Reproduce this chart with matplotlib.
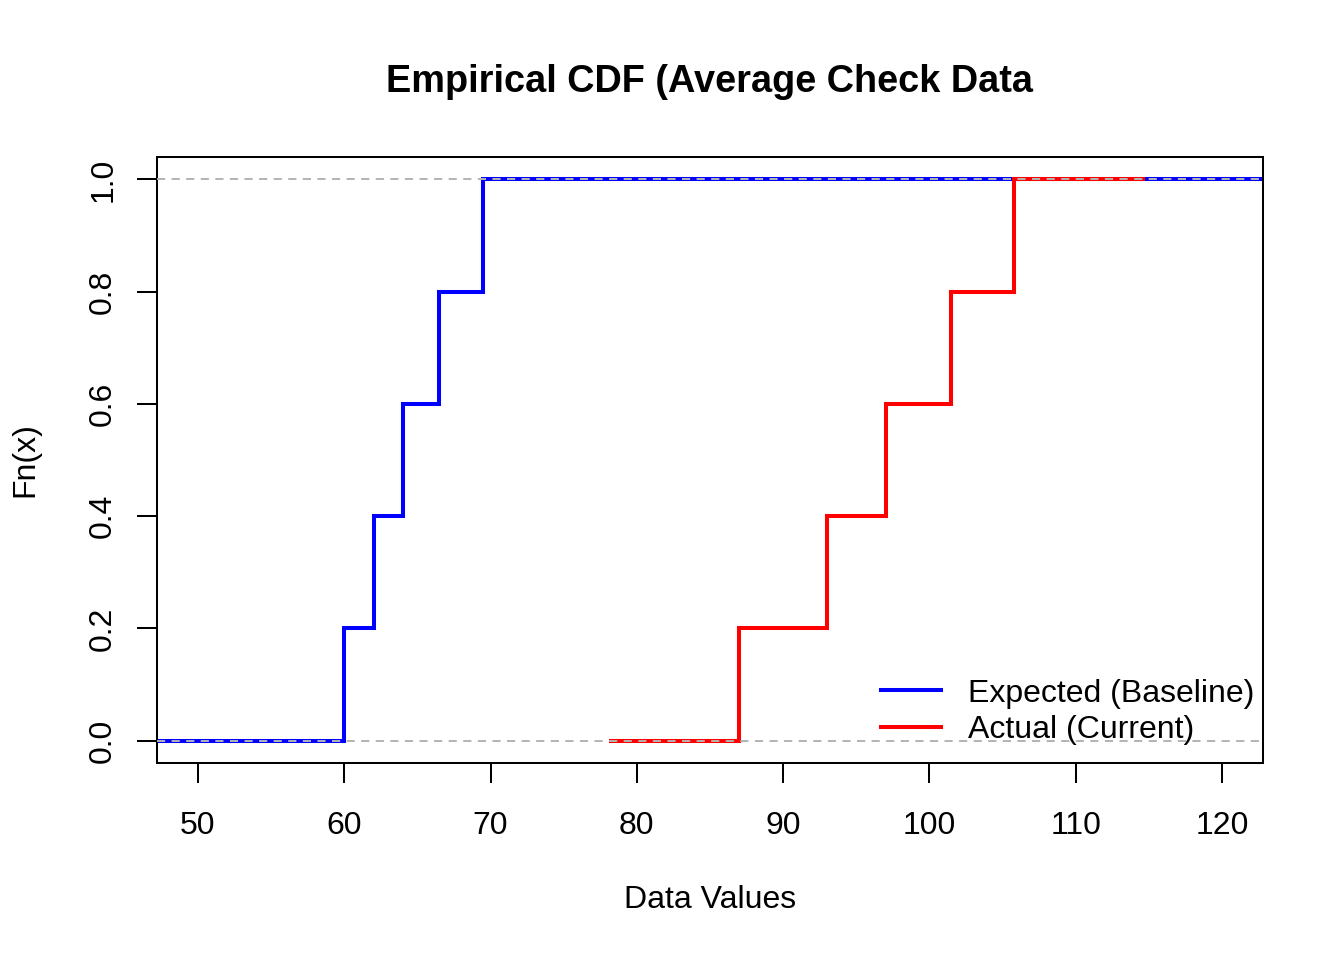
import matplotlib
matplotlib.use("Agg")
import matplotlib.pyplot as plt
import numpy as np
from matplotlib.lines import Line2D

plt.rcParams['font.family'] = ['Liberation Sans', 'DejaVu Sans']

expected = [60, 62, 64, 66.5, 69.5]
actual = [87, 93, 97, 101.5, 105.8]
xlim_data = (50, 120)
x_ticks = [50, 60, 70, 80, 90, 100, 110, 120]
y_ticks = [0.0, 0.2, 0.4, 0.6, 0.8, 1.0]
title = "Empirical CDF (Average Check Data"
labels = ["Expected (Baseline)", "Actual (Current)"]
colors = ["#0000FF", "#FF0000"]

W, H = 1344, 960
fig = plt.figure(figsize=(W/100, H/100), dpi=100)
ax = fig.add_axes([157/W, (H-763)/H, (1263-157)/W, (763-157)/H])

def ecdf_points(vals, ext=None):
    k = np.sort(np.asarray(vals, float))
    n = len(k)
    if ext is None:
        rx = k.max() - k.min()
        dr = max(0.08 * rx, np.median(np.diff(k)))
        lo, hi = k.min() - 2 * dr, k.max() + 2 * dr
    else:
        lo, hi = ext
    xs = np.concatenate([[lo], k, [hi]])
    ys = np.concatenate([[0], np.arange(1, n + 1) / n, [1]])
    return xs, ys

dr_full = xlim_data[1] - xlim_data[0]
xs_b, ys_b = ecdf_points(expected, (xlim_data[0] - dr_full, xlim_data[1] + dr_full))
xs_r, ys_r = ecdf_points(actual)

LW = 2.9
ax.step(xs_b, ys_b, where='post', color=colors[0], lw=LW, solid_joinstyle='miter', zorder=2)
ax.step(xs_r, ys_r, where='post', color=colors[1], lw=LW, solid_joinstyle='miter', zorder=3)
for yv in (0, 1):
    ax.axhline(yv, color='#B3B3B3', lw=1.4, linestyle=(0, (4.2, 3.3)), zorder=4)

ax.set_xlim(xlim_data[0] - 0.04 * 70, xlim_data[1] + 0.04 * 70)
ax.set_ylim(-0.04, 1.04)
ax.set_xticks(x_ticks)
ax.set_xticklabels([str(t) for t in x_ticks])
ax.set_yticks(y_ticks)
ax.set_yticklabels([f"{t:.1f}" for t in y_ticks], rotation=90, va='center')

for s in ax.spines.values():
    s.set_linewidth(1.45)
    s.set_color('black')
ax.tick_params(axis='both', length=14.4, width=1.45, labelsize=23, colors='black')
ax.tick_params(axis='x', pad=20)
ax.tick_params(axis='y', pad=13.5)

fig.text(710/W, 1 - 82/H, title, ha='center', va='center', fontsize=27.3, fontweight='bold')
fig.text(710/W, 1 - 900/H, "Data Values", ha='center', va='center', fontsize=23)
fig.text(25/W, 1 - 460/H, "Fn(x)", ha='center', va='center', fontsize=23, rotation=90)

handles = [Line2D([0], [0], color=c, lw=LW) for c in colors]
ax.legend(handles, labels, loc='lower right', frameon=False, fontsize=23,
          bbox_to_anchor=(1254/W, (H-745)/H), bbox_transform=fig.transFigure,
          handlelength=1.875, handletextpad=0.84, labelspacing=0.2,
          borderaxespad=0, borderpad=0)

fig.savefig("out.png", dpi=100)
